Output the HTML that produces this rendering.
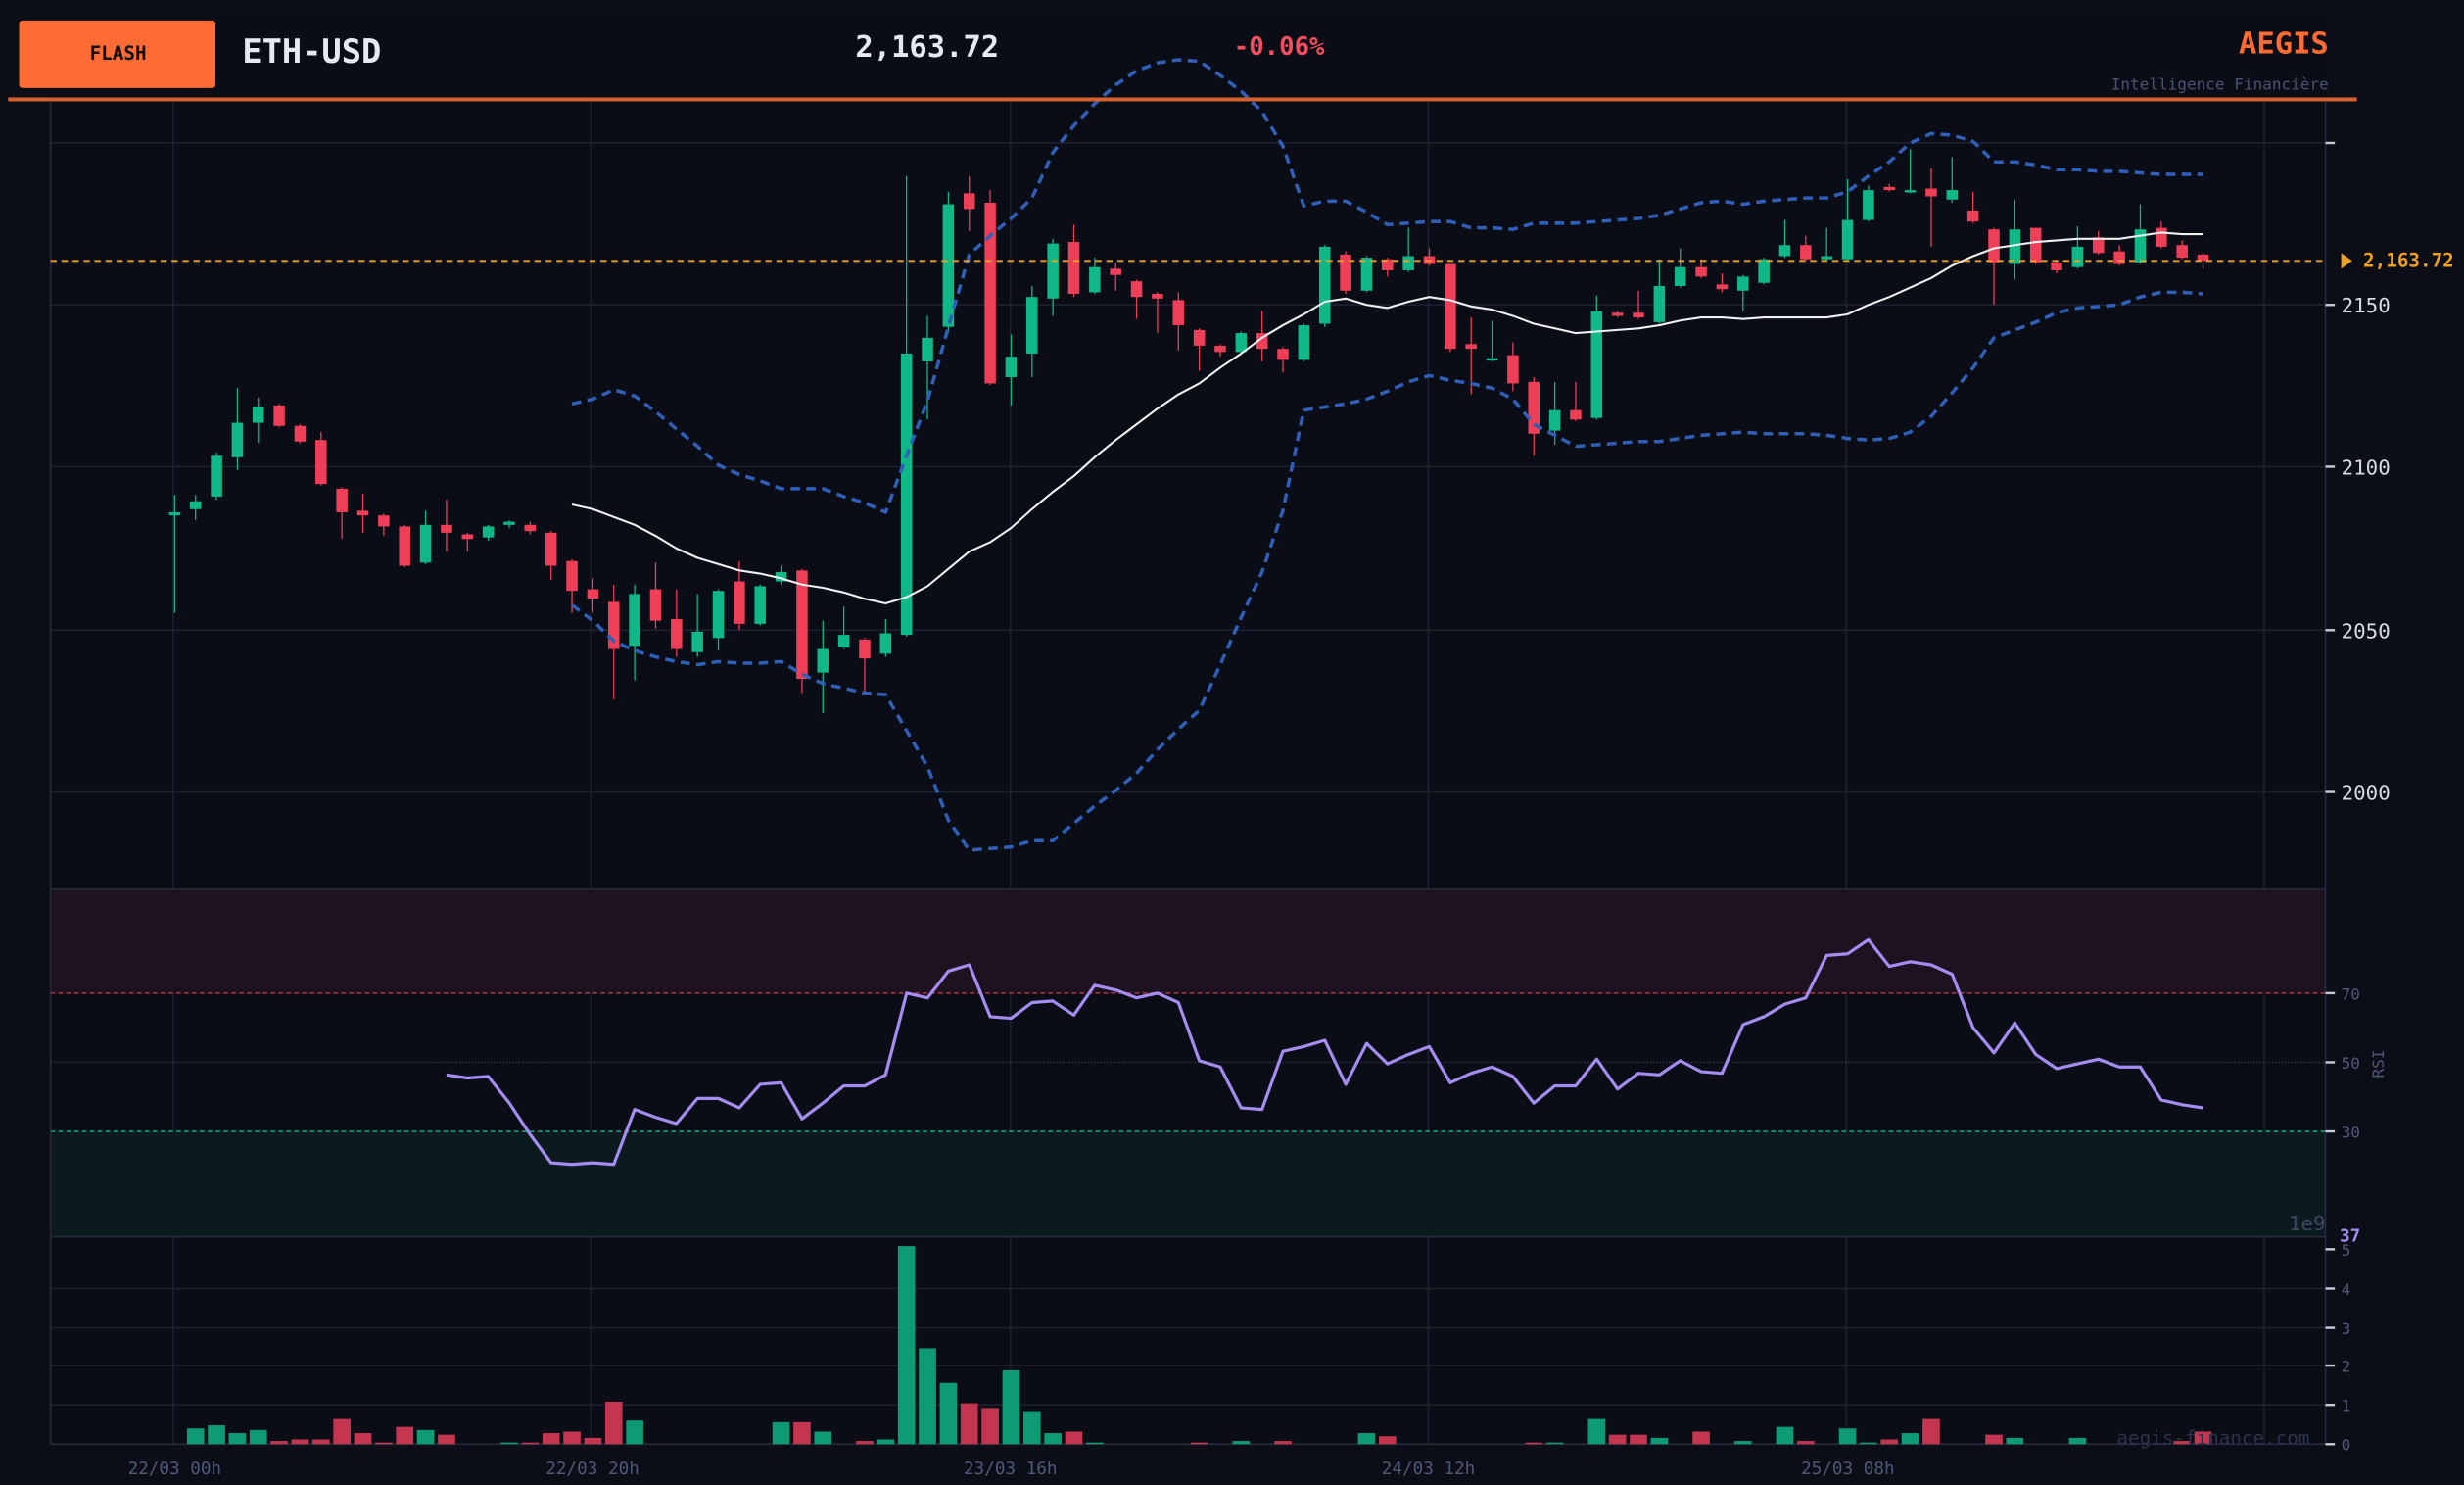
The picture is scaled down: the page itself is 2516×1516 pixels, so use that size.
<!DOCTYPE html>
<html><head><meta charset="utf-8"><style>
html,body{margin:0;padding:0;background:#0b0e17;}
svg{display:block;}
text{font-family:"DejaVu Sans Mono","Liberation Mono",monospace;}
</style></head><body>
<svg id="s" width="2516" height="1516" viewBox="0 0 1568 945" xmlns="http://www.w3.org/2000/svg">
<rect width="1568" height="945" fill="#0b0e17"/>
<rect x="32" y="14" width="1448" height="905" fill="#0a0d16"/>
<g id="grid" stroke="#1c2031" stroke-width="1"></g>
<rect x="32" y="566" width="1448" height="66" fill="#1d1220"/>
<rect x="32" y="720" width="1448" height="67" fill="#0a1a1e"/>
<line x1="32" y1="632" x2="1480" y2="632" stroke="#b83246" stroke-width="1" stroke-dasharray="3,2"/>
<line x1="32" y1="720" x2="1480" y2="720" stroke="#10a27a" stroke-width="1" stroke-dasharray="3,2"/>
<line x1="32" y1="676" x2="1480" y2="676" stroke="#2a2f44" stroke-width="1" stroke-dasharray="1,1"/>
<g id="axes" stroke="#262b40" stroke-width="1" fill="none">
<line x1="32" y1="65" x2="32" y2="919"/>
<line x1="1480" y1="65" x2="1480" y2="919"/>
<line x1="32" y1="566" x2="1480" y2="566"/>
<line x1="32" y1="787" x2="1480" y2="787"/>
<line x1="32" y1="919" x2="1480" y2="919"/>
</g>
<g id="vol"></g>
<g id="candles"></g>
<g id="lines"></g>
<line x1="32" y1="166" x2="1480" y2="166" stroke="#f0a020" stroke-width="1.2" stroke-dasharray="4,3"/>
<!-- header -->
<rect x="12" y="13" width="125" height="43" rx="2" fill="#ff6b35"/>
<text x="75" y="38" font-size="12" font-weight="bold" fill="#111" text-anchor="middle">FLASH</text>
<text x="154" y="40" font-size="21" font-weight="bold" fill="#e6e9f0">ETH-USD</text>
<text x="590" y="36" font-size="19" font-weight="bold" fill="#e6e9f0" text-anchor="middle">2,163.72</text>
<text x="814" y="35" font-size="16" font-weight="bold" fill="#f04e5e" text-anchor="middle">-0.06%</text>
<text x="1482" y="34" font-size="19" font-weight="bold" fill="#ff6b35" text-anchor="end">AEGIS</text>
<text x="1482" y="57" font-size="10" fill="#4a5272" text-anchor="end">Intelligence Financière</text>
<rect x="5" y="62" width="1495" height="2.5" fill="#d4612e"/>
<!-- axis labels -->
<g font-size="13" fill="#d8dbe6">
<text x="1490" y="199">2150</text><text x="1490" y="302">2100</text><text x="1490" y="406">2050</text><text x="1490" y="509">2000</text>
</g>
<g stroke="#c8ccd8" stroke-width="1.5"><line x1="1480" y1="91" x2="1486" y2="91"/><line x1="1480" y1="194" x2="1486" y2="194"/><line x1="1480" y1="297" x2="1486" y2="297"/><line x1="1480" y1="401" x2="1486" y2="401"/><line x1="1480" y1="504" x2="1486" y2="504"/>
<line x1="1480" y1="632" x2="1486" y2="632"/><line x1="1480" y1="676" x2="1486" y2="676"/><line x1="1480" y1="720" x2="1486" y2="720"/>
<line x1="1480" y1="795" x2="1486" y2="795"/><line x1="1480" y1="820" x2="1486" y2="820"/><line x1="1480" y1="845" x2="1486" y2="845"/><line x1="1480" y1="869" x2="1486" y2="869"/><line x1="1480" y1="894" x2="1486" y2="894"/><line x1="1480" y1="919" x2="1486" y2="919"/></g>
<polygon points="1490,161 1497,166 1490,171" fill="#f0a020"/>
<text x="1504" y="170" font-size="12" font-weight="bold" fill="#f0a020">2,163.72</text>
<g font-size="10" fill="#4f5878">
<text x="1490" y="636">70</text><text x="1490" y="680">50</text><text x="1490" y="724">30</text>
<text x="1490" y="799">5</text><text x="1490" y="824">4</text><text x="1490" y="849">3</text><text x="1490" y="873">2</text><text x="1490" y="898">1</text><text x="1490" y="923">0</text>
<text x="1517" y="677" transform="rotate(-90 1517 677)" text-anchor="middle">RSI</text>
</g>
<text x="1480" y="783" font-size="13" fill="#3e4662" text-anchor="end">1e9</text>
<text x="1489" y="790" font-size="11" font-weight="bold" fill="#a58cf0">37</text>
<text x="1470" y="919" font-size="12" fill="#2c3248" text-anchor="end">aegis-finance.com</text>
<g font-size="11" fill="#4f5878" text-anchor="middle">
<text x="111" y="938">22/03 00h</text><text x="377" y="938">22/03 20h</text><text x="643" y="938">23/03 16h</text><text x="909" y="938">24/03 12h</text><text x="1176" y="938">25/03 08h</text>
</g>
</svg>
<script>
var NS="http://www.w3.org/2000/svg";
function el(p,t,a){var e=document.createElementNS(NS,t);for(var k in a)e.setAttribute(k,a[k]);document.getElementById(p).appendChild(e);return e;}
// grid
[91,194,297,401,504,820,845,869,894].forEach(function(y){el("grid","line",{x1:32,y1:y,x2:1480,y2:y});});
[110,376,643,909,1175,1441].forEach(function(x){el("grid","line",{x1:x,y1:65,x2:x,y2:919});});
var C=[[328,326,315,390],[324,319,315,331],[316,290,288,318],[291,269,247,299],[269,259,253,282],[258,271,257,272],[271,281,270,282],[280,308,275,309],[311,326,310,343],[325,328,314,339],[328,335,327,341],[335,360,334,361],[358,334,325,359],[334,339,318,351],[340,343,339,351],[342,335,334,344],[334,332,331,336],[334,338,332,340],[339,360,338,369],[357,376,356,390],[375,381,368,390],[383,413,372,445],[411,378,372,433],[375,395,358,400],[394,413,375,418],[415,402,378,418],[406,376,375,414],[370,397,357,401],[397,373,372,398],[370,364,360,372],[363,432,362,441],[428,413,395,454],[412,404,386,413],[407,419,406,441],[416,403,394,418],[404,225,112,405],[230,215,201,267],[208,130,122,212],[123,133,112,147],[129,244,121,245],[240,227,213,258],[225,189,182,240],[190,155,152,201],[154,187,143,189],[186,170,164,187],[171,175,167,185],[179,189,178,203],[187,190,186,212],[191,207,186,223],[210,220,209,236],[220,224,219,227],[224,212,211,226],[212,222,198,230],[222,229,221,237],[229,207,206,230],[206,157,156,208],[162,185,160,187],[185,164,163,186],[165,172,164,176],[172,163,145,173],[163,168,158,169],[168,222,168,224],[219,222,202,251],[229,228,204,230],[226,244,218,249],[243,276,240,290],[274,261,243,283],[261,267,243,268],[266,198,188,267],[199,201,198,202],[199,202,185,203],[205,182,165,206],[182,170,158,183],[170,176,165,177],[181,184,174,186],[185,176,175,198],[180,165,164,181],[163,156,140,164],[156,165,150,166],[165,163,145,166],[165,140,114,166],[140,121,118,141],[119,121,117,122],[122,121,95,123],[120,125,107,157],[127,121,100,129],[134,141,122,142],[146,167,145,194],[168,146,127,178],[145,167,145,168],[167,172,166,174],[170,157,144,171],[151,161,147,162],[160,168,156,169],[167,146,130,168],[145,157,141,158],[156,164,153,165],[162,166,161,171]];
var G="#0fb886",R="#ee3e58";
C.forEach(function(c,i){var x=111+i*13.31,up=c[1]<c[0],col=up?G:R;
el("candles","line",{x1:x,y1:c[2],x2:x,y2:c[3],stroke:col,"stroke-width":0.8});
var t=Math.min(c[0],c[1]),h=Math.max(Math.abs(c[0]-c[1]),1.5);
el("candles","rect",{x:x-3.6,y:t,width:7.2,height:h,fill:col});});
var V={1:10,2:12,3:7,4:9,5:2,6:3,7:3,8:16,9:7,10:1,11:11,12:9,13:6,16:1,17:1,18:7,19:8,20:4,21:27,22:15,29:14,30:14,31:8,33:2,34:3,35:126,36:61,37:39,38:26,39:23,40:47,41:21,42:7,43:8,44:1,49:1,51:2,53:2,57:7,58:5,65:1,66:1,68:16,69:6,70:6,71:4,73:8,75:2,77:11,78:2,80:10,81:1,82:3,83:7,84:16,87:6,88:4,91:4,96:2,97:8};
for(var k in V){var i=+k,x=111+i*13.31,c=C[i],col=c[1]<c[0]?"#0e9a72":"#c43550";el("vol","rect",{x:x-5.5,y:919-V[k],width:11,height:V[k],fill:col});}
function pl(pts,st,w,d){var a={points:pts,fill:"none",stroke:st,"stroke-width":w,"stroke-linejoin":"round"};if(d)a["stroke-dasharray"]=d;el("lines","polyline",a);}
function mk(ys,start){return ys.map(function(y,j){return (111+(start+j)*13.31).toFixed(1)+","+y;}).join(" ");}
var up=[257,254,248,252,262,273,284,296,302,306,311,311,311,316,320,326,290,255,208,162,150,139,126,97,80,66,54,45,40,38,39,48,58,71,93,131,128,128,135,143,142,141,141,145,145,146,142,142,142,141,140,139,137,133,129,128,130,128,127,126,126,122,112,103,91,85,86,90,103,103,105,108,108,109,109,110,111,111,111];
var md=[321,324,329,334,341,349,355,359,363,365,368,372,374,377,381,384,380,373,362,351,345,336,324,313,303,291,280,270,260,251,244,234,225,215,207,200,192,190,194,196,192,189,191,195,197,201,206,209,212,211,210,209,207,204,202,202,203,202,202,202,202,200,194,189,183,177,169,163,158,156,154,153,152,152,152,150,148,149,149];
var lo=[385,395,408,414,418,421,423,421,422,422,421,429,435,438,441,442,465,488,522,541,540,539,535,535,524,513,503,492,477,464,452,423,393,364,325,261,259,257,254,249,243,239,242,244,247,254,270,277,284,283,282,281,281,279,277,276,275,276,276,276,277,279,280,279,275,265,250,234,215,210,205,199,196,195,194,189,186,186,187];
pl(mk(up,19),"#2f5fb8",2.2,"6,4");pl(mk(lo,19),"#2f5fb8",2.2,"6,4");pl(mk(md,19),"#f0f0f0",1.3);
var rsi=[684,686,685,702,722,740,741,740,741,706,711,715,699,699,705,690,689,712,702,691,691,684,632,635,618,614,647,648,638,637,646,627,630,635,632,638,675,679,705,706,669,666,662,690,664,677,671,666,689,683,679,685,702,691,691,674,693,683,684,675,682,683,652,647,639,635,608,607,598,615,612,614,620,654,670,651,671,680,677,674,679,679,700,703,705];
pl(mk(rsi,13),"#a58cf0",2);
</script>
</body></html>
